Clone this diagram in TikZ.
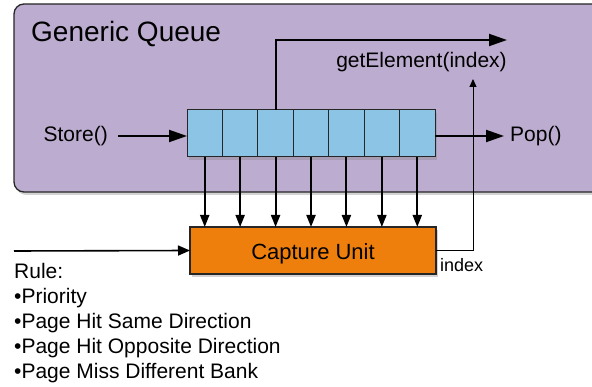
\documentclass[tikz,border=0pt]{standalone}
\usepackage{fontspec}
\setmainfont{Liberation Sans}
\usetikzlibrary{arrows.meta,shadows}
\definecolor{qpurple}{RGB}{188,172,207}
\definecolor{qblue}{RGB}{140,196,230}
\definecolor{qorange}{RGB}{238,127,12}
\tikzset{
  shad/.style={drop shadow={opacity=0.35,shadow xshift=2pt,shadow yshift=-3pt}},
  cell/.style={draw=black!85,line width=1pt,fill=qblue,minimum width=35.43pt,minimum height=47pt,inner sep=0pt,outer sep=0pt,anchor=north west,shad},
  arr/.style={line width=2pt,-{Triangle[length=18pt,width=12pt]}},
  darr/.style={line width=2pt,-{Triangle[length=12pt,width=9pt]}},
  larr/.style={line width=1.6pt,-{Triangle[length=12pt,width=10pt]}},
  tarr/.style={line width=1pt,-{Triangle[length=8pt,width=7pt]}},
  lbl/.style={font=\fontsize{21}{25}\selectfont,inner sep=0pt}
}
\begin{document}
\begin{tikzpicture}[x=1pt,y=-1pt]
\useasboundingbox (0,0) rectangle (592,387);
% queue container
\path[draw=black!85,line width=1.3pt,fill=qpurple,rounded corners=10pt,shad] (14,4) rectangle (640,192);
\node[font=\fontsize{28}{32}\selectfont,inner sep=0pt,anchor=base west] (title) at (31,42) {Generic Queue};
% cells
\foreach \i in {1,...,7}{
  \node[cell] (c\i) at ({187+(\i-1)*35.43},110) {};
}
% capture unit
\node[draw=black!85,line width=1.3pt,fill=qorange,minimum width=246pt,minimum height=47pt,inner sep=0pt,outer sep=0pt,shad] (cap) at (313,250.5) {};
\node[font=\fontsize{22}{26}\selectfont,inner sep=0pt,anchor=base] (captxt) at (313,260) {Capture Unit};
% labels
\node[lbl,anchor=east] (store) at (108,136) {Store()};
\node[lbl,anchor=west] (pop) at (510,136) {Pop()};
\node[lbl] (get) at (421.5,62) {getElement(index)};
\node[font=\fontsize{18}{22}\selectfont,inner sep=0pt,anchor=west] (idx) at (440,265) {index};
\node[lbl,anchor=base west] (r1) at (14,279) {Rule:};
\node[lbl,anchor=base west] (r2) at (14,304) {•Priority};
\node[lbl,anchor=base west] (r3) at (14,329) {•Page Hit Same Direction};
\node[lbl,anchor=base west] (r4) at (14,354) {•Page Hit Opposite Direction};
\node[lbl,anchor=base west] (r5) at (14,379) {•Page Miss Different Bank};
% coordinates
\coordinate (gend) at (507,40);
\coordinate (gtip) at (473,79);
\coordinate (inl) at (14,251);
% connectors
\draw[arr] ([xshift=10pt]store.east) -- (store.east -| c1.west);
\draw[arr] (c7.east |- pop) -- ([xshift=-6pt]pop.west);
\draw[arr] (c3.north) |- (gend);
\foreach \i in {1,...,7}{
  \draw[darr] (c\i.south) -- (c\i.south |- cap.north);
}
\draw[larr] (inl) -- (cap.west);
\draw[tarr] (cap.east) -| (gtip);
\end{tikzpicture}
\end{document}
